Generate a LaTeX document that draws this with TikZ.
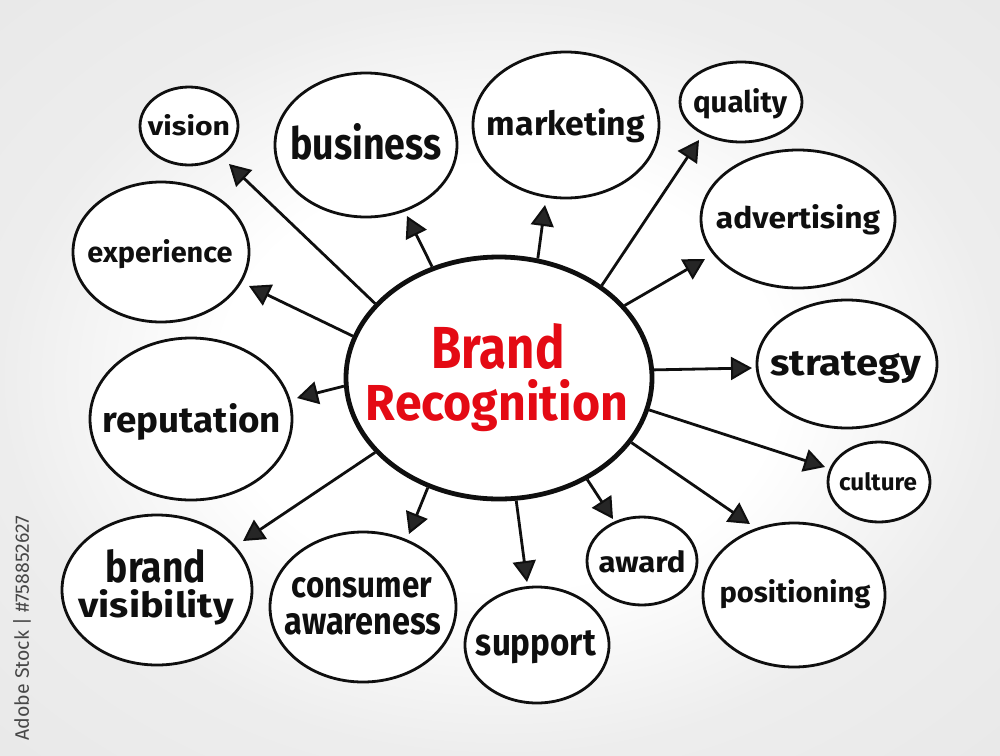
\documentclass[tikz,border=0pt]{standalone}
\usepackage{fontspec}
\setmainfont{Fira Sans}
\usetikzlibrary{shapes.geometric,arrows.meta}
\definecolor{brandred}{RGB}{228,10,20}
\definecolor{inkblack}{RGB}{15,15,15}
% width, height (above baseline), text
\newcommand\hw[3]{\resizebox{#1pt}{#2pt}{\bfseries #3}}
\pgfdeclareradialshading{bgshade}{\pgfpoint{0bp}{0bp}}{color(0bp)=(white); color(14bp)=(white); color(25bp)=(black!7); color(50bp)=(black!11)}
\begin{document}
\begin{tikzpicture}[x=1pt,y=-1pt,
  bub/.style={ellipse, draw=inkblack, line width=2.8pt, fill=white, inner sep=0pt},
  hub/.style={ellipse, draw=inkblack, line width=4.8pt, fill=white, inner sep=0pt},
  word/.style={text=inkblack, inner sep=0pt, anchor=base},
  arr/.style={draw=inkblack, line width=2.8pt, -{Triangle[length=21pt,width=23pt,fill=black!85,line width=2pt]}}]
\useasboundingbox (0,0) rectangle (1000,755);
\shade[shading=bgshade] (0,0) rectangle (1000,755);

% watermark
\node[rotate=90, text=black!72, inner sep=0pt] (wm) at (22,628) {\resizebox{225pt}{!}{Adobe Stock | \#758852627}};

% bubbles
\node[bub, minimum width=98pt,  minimum height=78pt]  (vision) at (189,126) {};
\node[bub, minimum width=182pt, minimum height=144pt] (business) at (366,145) {};
\node[bub, minimum width=186pt, minimum height=146pt] (marketing) at (566,125) {};
\node[bub, minimum width=122pt, minimum height=80pt]  (quality) at (741,102) {};
\node[bub, minimum width=194pt, minimum height=138pt] (advertising) at (798,219) {};
\node[bub, minimum width=176pt, minimum height=140pt] (experience) at (161,252) {};
\node[bub, minimum width=180pt, minimum height=128pt] (strategy) at (847,364) {};
\node[bub, minimum width=202pt, minimum height=162pt] (reputation) at (191,419) {};
\node[bub, minimum width=102pt, minimum height=80pt]  (culture) at (879,482) {};
\node[bub, minimum width=190pt, minimum height=150pt] (visibility) at (157,590) {};
\node[bub, minimum width=186pt, minimum height=150pt] (consumer) at (363,607) {};
\node[bub, minimum width=144pt, minimum height=116pt] (support) at (537,645) {};
\node[bub, minimum width=110pt, minimum height=88pt]  (award) at (642,561) {};
\node[bub, minimum width=182pt, minimum height=144pt] (positioning) at (794,595) {};
\node[hub, minimum width=306pt, minimum height=242pt] (c) at (499,378) {};

% words (anchored on their baselines)
\node[word] (tvision) at (189,135) {\hw{82}{21}{vision}};
\node[word] (tbusiness) at (366,159) {\hw{151}{36}{business}};
\node[word] (tmarketing) at (566,135) {\hw{158}{27}{marketing}};
\node[word] (tquality) at (740,112) {\hw{94}{24}{quality}};
\node[word] (tadvertising) at (798,228) {\hw{164}{24}{advertising}};
\node[word] (texperience) at (160,262) {\hw{145}{23}{experience}};
\node[word] (tstrategy) at (846,375) {\hw{151}{24}{strategy}};
\node[word] (treputation) at (192,432) {\hw{178}{29}{reputation}};
\node[word] (tculture) at (878,490) {\hw{78}{18}{culture}};
\node[word] (tbrand) at (156,582) {\hw{100}{33}{brand}};
\node[word] (tvisib) at (156,617) {\hw{155}{28}{visibility}};
\node[word] (tconsumer) at (362,597) {\hw{140}{20}{consumer}};
\node[word] (tawareness) at (363,634) {\hw{157}{21}{awareness}};
\node[word] (tsupport) at (536,655) {\hw{120}{25}{support}};
\node[word] (taward) at (642,572) {\hw{87}{22}{award}};
\node[word] (tpositioning) at (795,602) {\hw{151}{23}{positioning}};
\node[word, text=brandred] (tb) at (498,368) {\hw{133}{45}{Brand}};
\node[word, text=brandred] (tr) at (497,420) {\hw{262}{41}{Recognition}};

% arrow tips
\coordinate (avision) at (229,164);
\coordinate (abusiness) at (407,216);
\coordinate (amarketing) at (545,205);
\coordinate (aquality) at (699,140);
\coordinate (aadvertising) at (705,259);
\coordinate (aexperience) at (249,286);
\coordinate (areputation) at (297,398);
\coordinate (avisibility) at (243,541);
\coordinate (aconsumer) at (409,534);
\coordinate (asupport) at (527,582);
\coordinate (aaward) at (613,519);
\coordinate (apositioning) at (750,524);
\coordinate (aculture) at (825,467);
\coordinate (astrategy) at (752,368);

% connectors
\draw[arr] (c.149) -- (avision);
\draw[arr] (c.121) -- (abusiness);
\draw[arr] (c.72.6) -- (amarketing);
\draw[arr] (c.42.2) -- (aquality);
\draw[arr] (c.30.2) -- (aadvertising);
\draw[arr] (c.164.3) -- (aexperience);
\draw[arr] (c.183.3) -- (areputation);
\draw[arr] (c.211.5) -- (avisibility);
\draw[arr] (c.237) -- (aconsumer);
\draw[arr] (c.278.4) -- (asupport);
\draw[arr] (c.311.1) -- (aaward);
\draw[arr] (c.334.8) -- (apositioning);
\draw[arr] (c.348) -- (aculture);
\draw[arr] (c.3.6) -- (astrategy);
\end{tikzpicture}
\end{document}
